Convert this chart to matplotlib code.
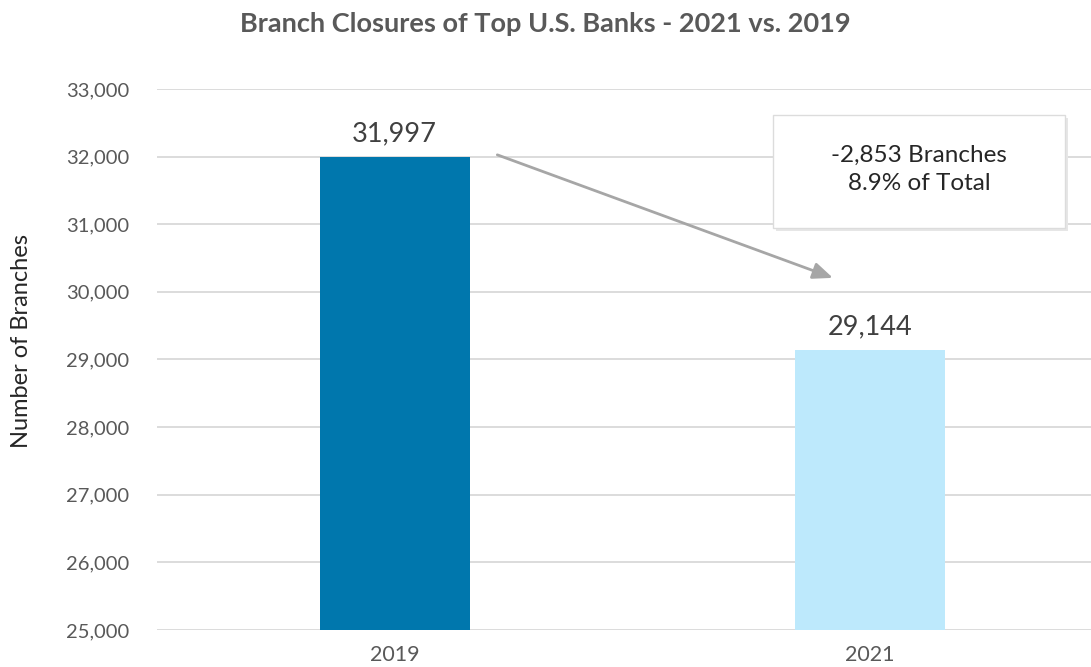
import matplotlib.pyplot as plt
from matplotlib.patches import FancyBboxPatch

# Branch counts
years = ["2019", "2021"]
branches = [31997, 29144]
bar_colors = ["#0077ad", "#bde9fc"]
y_ticks = [25000, 26000, 27000, 28000, 29000, 30000, 31000, 32000, 33000]
change = branches[1] - branches[0]
change_pct = 8.9

plt.rcParams['font.family'] = ['Lato', 'DejaVu Sans']

fig = plt.figure(figsize=(10.91, 6.67), dpi=100)
ax = fig.add_axes([0.1439, 0.0555, 0.8561, 0.8111])

x = list(range(len(years)))
ax.bar(x, branches, width=0.315, color=bar_colors, zorder=2)

for xi, v in zip(x, branches):
    ax.text(xi, v + 160, f"{v:,}", ha="center", va="bottom",
            fontsize=19.5, color="#404040")

ax.set_xlim(-0.5, 1.465)
ax.set_ylim(25000, 33000)
ax.set_yticks(y_ticks)
ax.set_yticklabels([f"{t:,}" for t in y_ticks])
ax.set_xticks(x)
ax.set_xticklabels(years)
ax.tick_params(axis="both", length=0, labelcolor="#595959")
ax.tick_params(axis="y", pad=20, labelsize=14.5)
ax.tick_params(axis="x", pad=11, labelsize=15.5)
ax.grid(axis="y", color="#d9d9d9", linewidth=1.3, zorder=0)
for s in ax.spines.values():
    s.set_visible(False)

ax.set_ylabel("Number of Branches", fontsize=17, color="#262626")
ax.yaxis.set_label_coords(-0.134, 0.534)

fig.suptitle("Branch Closures of Top U.S. Banks - 2021 vs. 2019",
             x=0.5, y=0.982, fontsize=19.5, fontweight="bold", color="#595959")

# arrow showing the drop
ax.annotate("", xy=(0.922, 30207), xytext=(0.216, 32026),
            arrowprops=dict(arrowstyle="-|>,head_length=1.2,head_width=0.5",
                            color="#a6a6a6", lw=2, shrinkA=0, shrinkB=0),
            zorder=3)

# callout box with shadow
bx0, by0, bw, bh = 773 / 1091, 1 - 228 / 667, 292 / 1091, 113 / 667
shadow = FancyBboxPatch((bx0 + 0.003, by0 - 0.005), bw, bh,
                        boxstyle="square,pad=0", transform=fig.transFigure,
                        facecolor="#e6e6e6", edgecolor="none", zorder=4)
box = FancyBboxPatch((bx0, by0), bw, bh, boxstyle="square,pad=0",
                     transform=fig.transFigure, facecolor="white",
                     edgecolor="#dcdcdc", linewidth=1, zorder=5)
fig.patches.extend([shadow, box])
fig.text(bx0 + bw / 2, by0 + bh / 2 + 0.003,
         f"{change:,} Branches\n{change_pct}% of Total",
         ha="center", va="center", fontsize=17.5, color="#262626",
         linespacing=1.45, zorder=6)

fig.savefig("out.png", dpi=100)
